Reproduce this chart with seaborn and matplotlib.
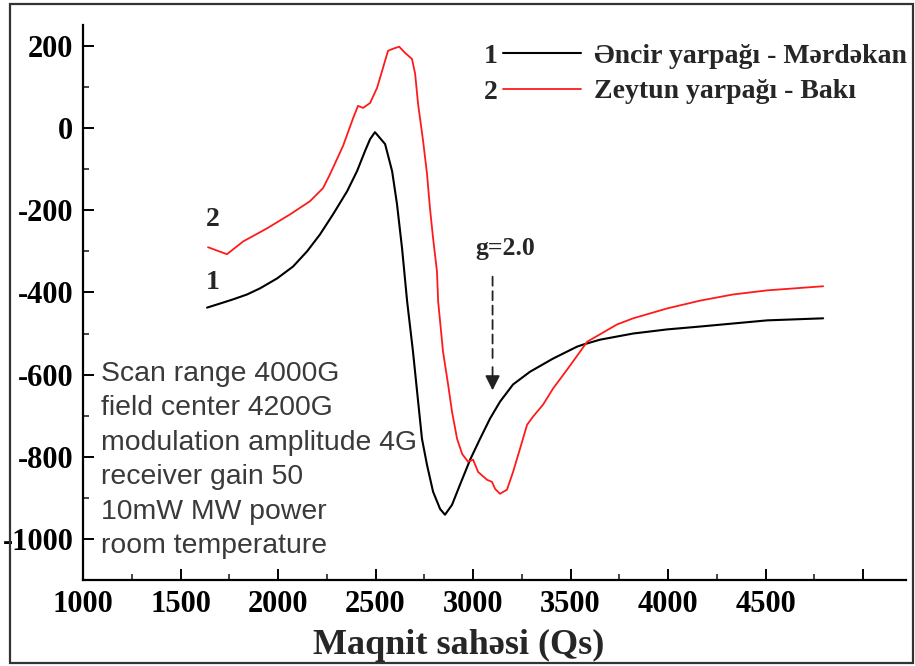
"""
EPR spektrləri: əncir və zeytun yarpaqları
"""
import numpy as np
import pandas as pd
import matplotlib.pyplot as plt
import seaborn as sns
from matplotlib.patches import Rectangle
from matplotlib.ticker import MultipleLocator, FixedLocator

# ============================================================
# Data
# ============================================================
field_1 = [1636, 1703, 1769, 1841, 1908, 1995, 2077, 2149, 2215, 2282, 2354, 2405,
           2446, 2472, 2497, 2549, 2585, 2610, 2636, 2662, 2692, 2713, 2738, 2764,
           2795, 2831, 2856, 2892, 2933, 2985, 3036, 3087, 3138, 3205, 3292, 3410,
           3533, 3564, 3651, 3821, 3995, 4164, 4508, 4795]
signal_1 = [-437, -427, -417, -405, -390, -366, -337, -300, -259, -210, -154, -105,
            -56, -27, -10, -39, -105, -185, -293, -422, -544, -641, -756, -820,
            -885, -927, -941, -917, -868, -807, -756, -707, -666, -624, -593, -561,
            -532, -527, -515, -500, -490, -483, -468, -463]

field_2 = [1641, 1738, 1821, 1944, 2062, 2164, 2231, 2267, 2333, 2385, 2410, 2436,
           2472, 2508, 2538, 2564, 2590, 2621, 2651, 2687, 2703, 2718, 2744, 2764,
           2779, 2795, 2815, 2821, 2846, 2872, 2892, 2918, 2944, 2974, 3000, 3026,
           3072, 3097, 3113, 3138, 3174, 3205, 3241, 3277, 3308, 3359, 3410, 3482,
           3549, 3585, 3738, 3821, 3995, 4164, 4333, 4508, 4795]
signal_2 = [-290, -307, -276, -244, -210, -178, -146, -112, -44, 24, 54, 49,
            61, 98, 146, 188, 193, 198, 183, 168, 132, 59, -32, -112,
            -195, -268, -349, -422, -544, -624, -690, -756, -793, -812, -807, -837,
            -856, -861, -878, -890, -880, -837, -780, -722, -702, -673, -634, -588,
            -544, -520, -478, -463, -439, -420, -405, -395, -385]

labels = ['Əncir yarpağı - Mərdəkan', 'Zeytun yarpağı - Bakı']
colors = ['#000000', '#ff1a1a']

x_ticks = [1000, 1500, 2000, 2500, 3000, 3500, 4000, 4500, 5000]
x_ticklabels = ['1000', '1500', '2000', '2500', '3000', '3500', '4000', '4500', '']
y_ticks = [200, 0, -200, -400, -600, -800, -1000]

conditions = ['Scan range 4000G', 'field center 4200G', 'modulation amplitude 4G',
              'receiver gain 50', '10mW MW power', 'room temperature']

g_field = 3100
g_arrow = [-355, -575, -645]

# ============================================================
# Figure
# ============================================================
sns.set_theme(style='ticks')
serif = ['Liberation Serif', 'DejaVu Serif']
plt.rcParams['font.family'] = serif
plt.rcParams['axes.unicode_minus'] = False

fig = plt.figure(figsize=(9.15, 6.66), dpi=100)
ax = fig.add_axes([0.0907, 0.129, 0.8995, 0.833])

sns.lineplot(x=field_1, y=signal_1, sort=False, color=colors[0], lw=1.5,
             label=labels[0], ax=ax)
sns.lineplot(x=field_2, y=signal_2, sort=False, color=colors[1], lw=1.3,
             label=labels[1], ax=ax)

ax.set_xlim(1000, 5220)
ax.set_ylim(-1100, 250)

ax.xaxis.set_major_locator(FixedLocator(x_ticks))
ax.set_xticklabels(x_ticklabels)
ax.xaxis.set_minor_locator(MultipleLocator(250))
ax.yaxis.set_major_locator(FixedLocator(y_ticks))
ax.yaxis.set_minor_locator(MultipleLocator(100))

ax.tick_params(which='major', direction='in', length=8, width=1.4, pad=7,
               labelsize=22, colors='black')
ax.tick_params(which='minor', direction='in', length=4, width=1.2)
for t in ax.get_xticklabels() + ax.get_yticklabels():
    t.set_fontweight('bold')
    t.set_family(serif)

sns.despine(ax=ax)
for s in ['left', 'bottom']:
    ax.spines[s].set_linewidth(1.6)
    ax.spines[s].set_color('black')

ax.set_xlabel('Maqnit sahəsi (Qs)', fontsize=26, fontweight='bold')
ax.xaxis.set_label_coords(0.457, -0.088)
ax.set_ylabel('')

# legend, numbered like in the paper
leg = ax.legend(loc='upper left', bbox_to_anchor=(0.51, 0.968), frameon=False,
                handlelength=2.8, handletextpad=0.47, labelspacing=0.37,
                borderpad=0, borderaxespad=0,
                prop={'family': serif, 'weight': 'bold', 'size': 20})
for num, y in zip(['1', '2'], [0.944, 0.879]):
    ax.text(0.495, y, num, transform=ax.transAxes, ha='center', va='center',
            fontsize=20, fontweight='bold')

# curve numbers
ax.text(1667, -222, '2', ha='center', va='center', fontsize=20, fontweight='bold')
ax.text(1667, -376, '1', ha='center', va='center', fontsize=20, fontweight='bold')

# g-factor marker
ax.annotate('', xy=(g_field, g_arrow[1]), xytext=(g_field, g_arrow[0]),
            arrowprops=dict(arrowstyle='-', linestyle=(0, (5, 3)), color='#222222', lw=1.3))
ax.annotate('', xy=(g_field, g_arrow[2]), xytext=(g_field, g_arrow[1]),
            arrowprops=dict(arrowstyle='-|>', color='#222222', lw=1.3, mutation_scale=22))
ax.text(3164, -293, 'g=2.0', ha='center', va='center', fontsize=18.5, fontweight='bold')

# measurement conditions
ax.text(1092, -808, '\n'.join(conditions), ha='left', va='center', fontsize=20.4,
        family=['Liberation Sans', 'DejaVu Sans'], color='#3a3a3a', linespacing=1.42)

# frame around the whole picture
fig.patches.append(Rectangle((0.011, 0.004), 0.987, 0.99, transform=fig.transFigure,
                             fill=False, edgecolor='#333333', lw=1.6))

plt.savefig('out.png', dpi=100)
plt.close()
